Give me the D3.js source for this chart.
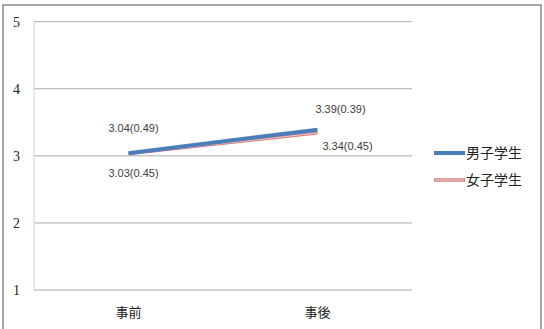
<!DOCTYPE html>
<html>
<head>
<meta charset="utf-8">
<script src="https://cdn.jsdelivr.net/npm/d3@7"></script>
<style>
  body { margin: 0; background: #fff; }
  svg { display: block; }
</style>
</head>
<body>
<script>
var width = 544,
    height = 329;

// data
var categories = ["事前", "事後"];
var seriesNames = ["男子学生", "女子学生"];
var maleValues = [3.04, 3.39];
var femaleValues = [3.03, 3.34];
var maleLabels = ["3.04(0.49)", "3.39(0.39)"];
var femaleLabels = ["3.03(0.45)", "3.34(0.45)"];
var yTicks = [1, 2, 3, 4, 5];

var margin = {left: 34, right: 412, top: 21.7, bottom: 290};

var x = d3.scalePoint()
    .domain(categories)
    .range([margin.left, margin.right])
    .padding(0.5);

var y = d3.scaleLinear()
    .domain([1, 5])
    .range([margin.bottom, margin.top]);

var svg = d3.select("body").append("svg")
    .attr("width", width)
    .attr("height", height);

// outer frame
svg.append("rect")
    .attr("x", 3).attr("y", 5)
    .attr("width", 538).attr("height", 330)
    .attr("fill", "#fff")
    .attr("stroke", "#a6a6a6")
    .attr("stroke-width", 2);

// horizontal grid lines
svg.append("g")
  .selectAll("line").data(yTicks)
  .enter().append("line")
    .attr("x1", margin.left)
    .attr("x2", margin.right)
    .attr("y1", d => y(d))
    .attr("y2", d => y(d))
    .attr("stroke", "#a8a8a8")
    .attr("stroke-width", 1);

// left axis line
svg.append("line")
    .attr("x1", margin.left).attr("x2", margin.left)
    .attr("y1", y(5)).attr("y2", y(1))
    .attr("stroke", "#d0d0d0")
    .attr("stroke-width", 1);

// y tick labels
svg.append("g")
  .selectAll("text").data(yTicks)
  .enter().append("text")
    .attr("x", 16.5)
    .attr("y", d => y(d))
    .attr("dy", "0.35em")
    .attr("text-anchor", "middle")
    .attr("font-family", "'Liberation Serif', 'DejaVu Serif', serif")
    .attr("font-size", 14)
    .attr("fill", "#222")
    .text(d => d);

// category labels
svg.append("g")
  .selectAll("text").data(categories)
  .enter().append("text")
    .attr("x", d => x(d))
    .attr("y", 312)
    .attr("dy", "0.35em")
    .attr("text-anchor", "middle")
    .attr("font-family", "'Noto Sans CJK JP', sans-serif")
    .attr("font-size", 13)
    .attr("fill", "#222")
    .text(d => d);

var line = d3.line()
    .x((d, i) => x(categories[i]))
    .y(d => y(d));

// female line (drawn first, under the male line)
svg.append("path")
    .datum(femaleValues)
    .attr("d", line)
    .attr("fill", "none")
    .attr("stroke", "#d47b79")
    .attr("stroke-width", 3);
svg.append("path")
    .datum(femaleValues)
    .attr("d", line)
    .attr("fill", "none")
    .attr("stroke", "#f3d6d5")
    .attr("stroke-width", 0.8);

// male line
svg.append("path")
    .datum(maleValues)
    .attr("d", line)
    .attr("fill", "none")
    .attr("stroke", "#4a7ebb")
    .attr("stroke-width", 4);

// data labels
var labelFont = "'Liberation Sans', Arial, sans-serif";
var labelPos = [
  {text: maleLabels[0], x: x(categories[0]) + 5, y: 132},
  {text: femaleLabels[0], x: x(categories[0]) + 5, y: 177},
  {text: maleLabels[1], x: x(categories[1]) + 23, y: 113},
  {text: femaleLabels[1], x: x(categories[1]) + 30, y: 150}
];
svg.append("g")
  .selectAll("text").data(labelPos)
  .enter().append("text")
    .attr("x", d => d.x)
    .attr("y", d => d.y)
    .attr("text-anchor", "middle")
    .attr("font-family", labelFont)
    .attr("font-size", 11)
    .attr("fill", "#404040")
    .text(d => d.text);

// legend
var legend = svg.append("g");
var legendY = [153, 180];

legend.append("line")
    .attr("x1", 434).attr("x2", 465)
    .attr("y1", legendY[0]).attr("y2", legendY[0])
    .attr("stroke", "#4a7ebb")
    .attr("stroke-width", 4);
legend.append("line")
    .attr("x1", 434).attr("x2", 465)
    .attr("y1", legendY[1]).attr("y2", legendY[1])
    .attr("stroke", "#d47b79")
    .attr("stroke-width", 3.5);
legend.append("line")
    .attr("x1", 435).attr("x2", 464)
    .attr("y1", legendY[1]).attr("y2", legendY[1])
    .attr("stroke", "#f3d6d5")
    .attr("stroke-width", 1);

legend.selectAll("text").data(seriesNames)
  .enter().append("text")
    .attr("x", 466)
    .attr("y", (d, i) => legendY[i])
    .attr("dy", "0.35em")
    .attr("font-family", "'Noto Sans CJK JP', sans-serif")
    .attr("font-size", 14)
    .attr("fill", "#222")
    .text(d => d);
</script>
</body>
</html>
